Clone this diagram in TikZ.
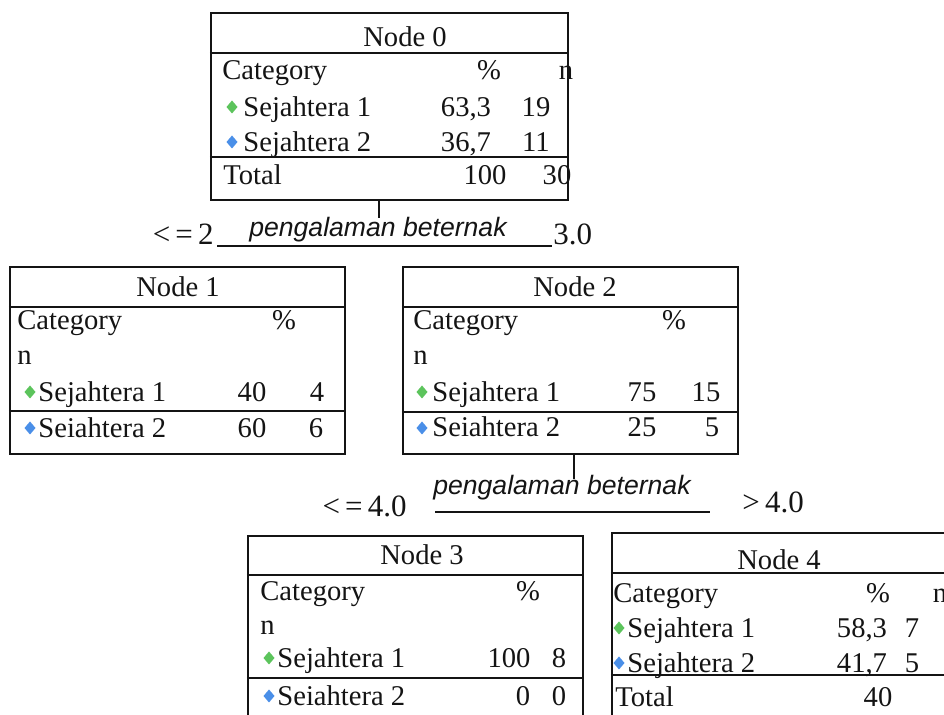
\documentclass[tikz,border=0pt]{standalone}
\usepackage{fontspec}
\setmainfont{Liberation Serif}
\setsansfont{Liberation Sans}
\usetikzlibrary{fit}
\definecolor{ink}{HTML}{141414}
\definecolor{dgreen}{HTML}{5CC45C}
\definecolor{dblue}{HTML}{4A8FE8}
\begin{document}
\begin{tikzpicture}[x=0.5pt,y=-0.5pt,
  box/.style={draw=ink, line width=1.1pt, inner sep=0pt},
  ln/.style={draw=ink, line width=1.1pt},
  t/.style={text=ink, inner sep=0pt, font=\fontsize{14.3pt}{16pt}\selectfont},
  lab/.style={text=ink, inner sep=0pt, font=\fontsize{15.5pt}{17pt}\selectfont},
  split/.style={text=ink, inner sep=0pt, font=\sffamily\itshape\fontsize{13.3pt}{15pt}\selectfont},
  gem/.pic={\fill (-5.5,0) -- (0,-6.5) -- (5.5,0) -- (0,6.5) -- cycle;}]
\useasboundingbox (0,0) rectangle (944,715);
\clip (0,0) rectangle (944,715);
\fill[white] (0,0) rectangle (944,715);

% ---------- Node 0
\node[box, fit={(211,13) (568,200)}] (n0) {};
\draw[ln] (n0.west |- 0,53) -- (n0.east |- 0,53);
\draw[ln] (n0.west |- 0,157) -- (n0.east |- 0,157);
\node[t, anchor=base] (n0t) at (405,47) {Node 0};
\node[t, anchor=base west] (n0c) at (222,80) {Category};
\node[t, anchor=base] (n0p) at (489,80) {\%};
\node[t, anchor=base] (n0n) at (566,80) {n};
\pic[color=dgreen] at (232,107) {gem};
\node[t, anchor=base west] (n0s1) at (243,117) {Sejahtera 1};
\node[t, anchor=base] (n0s1p) at (466,117) {63,3};
\node[t, anchor=base] (n0s1n) at (536,117) {19};
\pic[color=dblue] at (232,142) {gem};
\node[t, anchor=base west] (n0s2) at (243,152) {Sejahtera 2};
\node[t, anchor=base] (n0s2p) at (466,152) {36,7};
\node[t, anchor=base] (n0s2n) at (536,152) {11};
\node[t, anchor=base west] (n0tot) at (223,185) {Total};
\node[t, anchor=base] (n0totp) at (485,185) {100};
\node[t, anchor=base] (n0totn) at (557,185) {30};

% ---------- split 1
\coordinate (s1) at (379,218);
\coordinate (l1a) at (217,246);
\coordinate (l1b) at (552,246);
\draw[ln] (s1 |- n0.south) -- (s1);
\draw[ln] (l1a) -- (l1b);
\node[split, anchor=base] (sp1) at (378,237) {pengalaman beternak};
\node[lab, anchor=base east] (sp1l) at (214,245) {<\,=\,2};
\node[lab, anchor=base west] (sp1r) at (553,245) {3.0};

% ---------- Node 1
\node[box, fit={(10,267) (345,454)}] (n1) {};
\draw[ln] (n1.west |- 0,307) -- (n1.east |- 0,307);
\draw[ln] (n1.west |- 0,411) -- (n1.east |- 0,411);
\node[t, anchor=base] (n1t) at (178,297) {Node 1};
\node[t, anchor=base west] (n1c) at (17,330) {Category};
\node[t, anchor=base] (n1p) at (284,330) {\%};
\node[t, anchor=base west] (n1n) at (17,365) {n};
\pic[color=dgreen] at (30,392) {gem};
\node[t, anchor=base west] (n1s1) at (38,402) {Sejahtera 1};
\node[t, anchor=base] (n1s1p) at (252,402) {40};
\node[t, anchor=base] (n1s1n) at (317,402) {4};
\pic[color=dblue] at (30,428) {gem};
\node[t, anchor=base west] (n1s2) at (38,438) {Seiahtera 2};
\node[t, anchor=base] (n1s2p) at (252,438) {60};
\node[t, anchor=base] (n1s2n) at (316,438) {6};

% ---------- Node 2
\node[box, fit={(403,267) (738,454)}] (n2) {};
\draw[ln] (n2.west |- 0,307) -- (n2.east |- 0,307);
\draw[ln] (n2.west |- 0,412) -- (n2.east |- 0,412);
\node[t, anchor=base] (n2t) at (575,297) {Node 2};
\node[t, anchor=base west] (n2c) at (413,330) {Category};
\node[t, anchor=base] (n2p) at (674,330) {\%};
\node[t, anchor=base west] (n2n) at (413,365) {n};
\pic[color=dgreen] at (422,392) {gem};
\node[t, anchor=base west] (n2s1) at (432,402) {Sejahtera 1};
\node[t, anchor=base] (n2s1p) at (642,402) {75};
\node[t, anchor=base] (n2s1n) at (706,402) {15};
\pic[color=dblue] at (422,428) {gem};
\node[t, anchor=base west] (n2s2) at (432,437) {Seiahtera 2};
\node[t, anchor=base] (n2s2p) at (642,437) {25};
\node[t, anchor=base] (n2s2n) at (712,437) {5};

% ---------- split 2
\coordinate (s2) at (574,479);
\coordinate (l2a) at (435,512);
\coordinate (l2b) at (710,512);
\draw[ln] (s2 |- n2.south) -- (s2);
\draw[ln] (l2a) -- (l2b);
\node[split, anchor=base] (sp2) at (562,495) {pengalaman beternak};
\node[lab, anchor=base east] (sp2l) at (407,517) {<\,=\,4.0};
\node[lab, anchor=base west] (sp2r) at (742,513) {>\,4.0};

% ---------- Node 3
\node[box, fit={(248,536) (583,740)}] (n3) {};
\draw[ln] (n3.west |- 0,575) -- (n3.east |- 0,575);
\draw[ln] (n3.west |- 0,678) -- (n3.east |- 0,678);
\node[t, anchor=base] (n3t) at (422,565) {Node 3};
\node[t, anchor=base west] (n3c) at (260,601) {Category};
\node[t, anchor=base] (n3p) at (528,601) {\%};
\node[t, anchor=base west] (n3n) at (260,635) {n};
\pic[color=dgreen] at (269,658) {gem};
\node[t, anchor=base west] (n3s1) at (277,668) {Sejahtera 1};
\node[t, anchor=base] (n3s1p) at (509,668) {100};
\node[t, anchor=base] (n3s1n) at (559,668) {8};
\pic[color=dblue] at (269,696) {gem};
\node[t, anchor=base west] (n3s2) at (277,706) {Seiahtera 2};
\node[t, anchor=base] (n3s2p) at (523,706) {0};
\node[t, anchor=base] (n3s2n) at (559,706) {0};

% ---------- Node 4
\node[box, fit={(612,533) (970,740)}] (n4) {};
\draw[ln] (n4.west |- 0,573) -- (n4.east |- 0,573);
\draw[ln] (n4.west |- 0,675) -- (n4.east |- 0,675);
\node[t, anchor=base] (n4t) at (779,570) {Node 4};
\node[t, anchor=base west] (n4c) at (613,603) {Category};
\node[t, anchor=base] (n4p) at (878,603) {\%};
\node[t, anchor=base] (n4n) at (940,603) {n};
\pic[color=dgreen] at (619,628) {gem};
\node[t, anchor=base west] (n4s1) at (627,638) {Sejahtera 1};
\node[t, anchor=base] (n4s1p) at (862,638) {58,3};
\node[t, anchor=base] (n4s1n) at (912,638) {7};
\pic[color=dblue] at (619,663) {gem};
\node[t, anchor=base west] (n4s2) at (627,673) {Sejahtera 2};
\node[t, anchor=base] (n4s2p) at (862,673) {41,7};
\node[t, anchor=base] (n4s2n) at (912,673) {5};
\node[t, anchor=base west] (n4tot) at (615,707) {Total};
\node[t, anchor=base] (n4totp) at (878,707) {40};
\end{tikzpicture}
\end{document}
